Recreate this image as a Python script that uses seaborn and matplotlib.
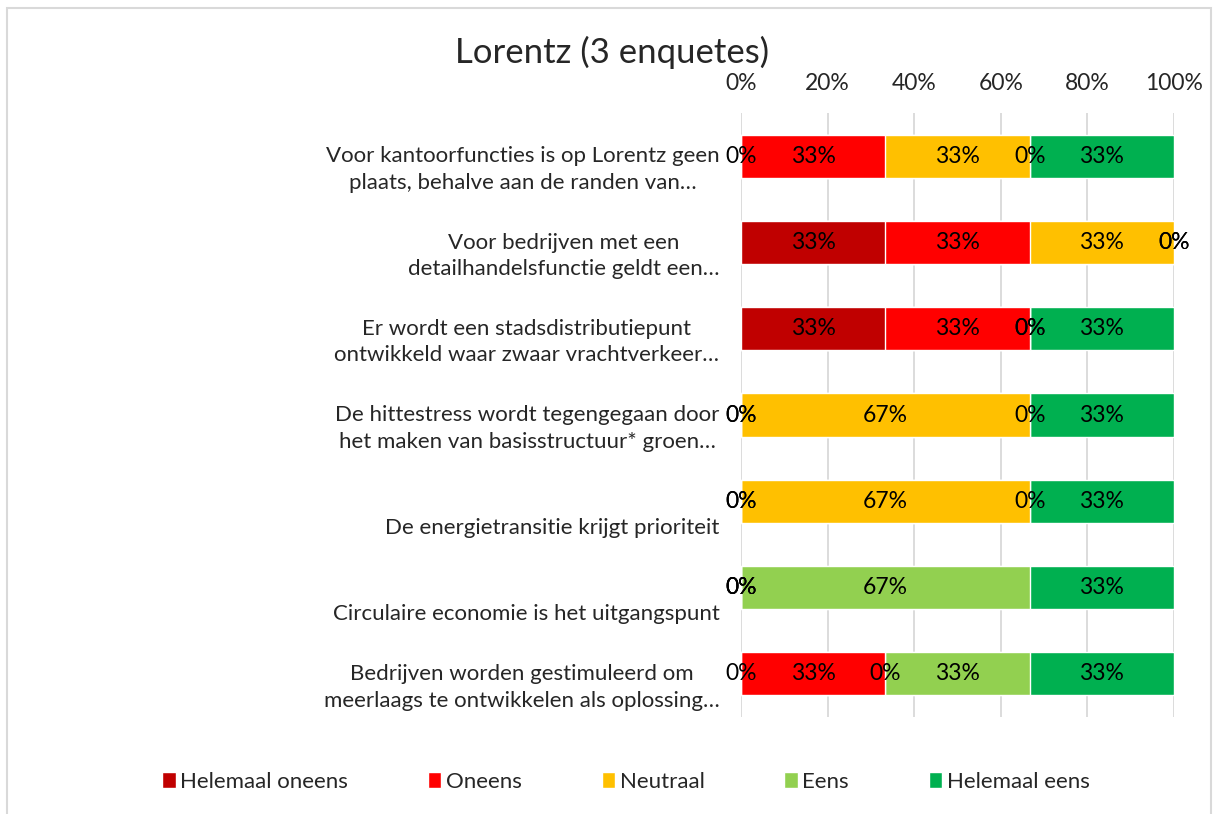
import matplotlib
matplotlib.use('Agg')
import matplotlib.pyplot as plt
import seaborn as sns
import pandas as pd
from matplotlib.ticker import PercentFormatter
from matplotlib.patches import Patch, Rectangle

statements = [
    'Voor kantoorfuncties is op Lorentz geen\nplaats, behalve aan de randen van…',
    'Voor bedrijven met een\ndetailhandelsfunctie geldt een…',
    'Er wordt een stadsdistributiepunt\nontwikkeld waar zwaar vrachtverkeer…',
    'De hittestress wordt tegengegaan door\nhet maken van basisstructuur* groen…',
    'De energietransitie krijgt prioriteit',
    'Circulaire economie is het uitgangspunt',
    'Bedrijven worden gestimuleerd om\nmeerlaags te ontwikkelen als oplossing…',
]
answers = ['Helemaal oneens', 'Oneens', 'Neutraal', 'Eens', 'Helemaal eens']
colors = ['#C00000', '#FF0000', '#FFC000', '#92D050', '#00B050']

n_enquetes = 3
helemaal_oneens = [0, 1, 1, 0, 0, 0, 0]
oneens = [1, 1, 1, 0, 0, 0, 1]
neutraal = [1, 1, 0, 2, 2, 0, 0]
eens = [0, 0, 0, 0, 0, 2, 1]
helemaal_eens = [1, 0, 1, 1, 1, 1, 1]

df = pd.DataFrame({'statement': statements,
                   'Helemaal oneens': helemaal_oneens,
                   'Oneens': oneens,
                   'Neutraal': neutraal,
                   'Eens': eens,
                   'Helemaal eens': helemaal_eens})
pct = df[answers] / n_enquetes * 100
cum = pct.cumsum(axis=1)

sns.set_style('white')
plt.rcParams['font.family'] = ['Lato', 'DejaVu Sans']
FS = 16.5

fig = plt.figure(figsize=(12.13, 8.14), dpi=100)
fig.set_facecolor('white')
ax = fig.add_axes([741 / 1213, 1 - 717 / 814, 433 / 1213, 604 / 814])

# stacked bars: draw cumulative totals from the top down
for ans, col in reversed(list(zip(answers, colors))):
    sns.barplot(x=cum[ans], y=df['statement'], color=col, saturation=1,
                width=0.5, orient='h', ax=ax, zorder=2)

for i in range(len(df)):
    for ans in answers:
        left = cum.loc[i, ans] - pct.loc[i, ans]
        ax.text(left + pct.loc[i, ans] / 2, i, f"{pct.loc[i, ans]:.0f}%",
                ha='center', va='center', fontsize=FS, color='black', zorder=3)

ax.set_xlim(0, 100)
ax.set_ylim(6.5, -0.5)
ax.set_xticks(range(0, 101, 20))
ax.xaxis.set_major_formatter(PercentFormatter(decimals=0))
ax.xaxis.tick_top()
ax.tick_params(axis='x', length=0, labelsize=FS, pad=14)
ax.tick_params(axis='y', length=0)
ax.set_yticklabels([])
ax.set_xlabel('')
ax.set_ylabel('')
ax.grid(axis='x', color='#D9D9D9', linewidth=1.3, zorder=0)
ax.set_axisbelow(True)
for sp in ax.spines.values():
    sp.set_visible(False)

# category labels: first line level with the bar, single lines drop one line
for i, s in enumerate(statements):
    txt = s if '\n' in s else '\n' + s
    ax.annotate(txt, xy=(0, i), xycoords=('axes fraction', 'data'),
                xytext=(-15.5, -6), textcoords='offset points',
                ha='right', va='center_baseline', multialignment='center',
                fontsize=16, linespacing=1.4)

fig.text(612 / 1213, 1 - 52 / 814, 'Lorentz (3 enquetes)',
         ha='center', va='center', fontsize=25)

handles = [Patch(facecolor=c, label=a) for a, c in zip(answers, colors)]
fig.legend(handles=handles, loc='center', bbox_to_anchor=(626 / 1213, 1 - 782 / 814),
           ncol=5, frameon=False, fontsize=16, handlelength=0.6, handleheight=0.7,
           handletextpad=0.2, columnspacing=3.6)

fig.add_artist(Rectangle((7 / 1213, -0.02), 1204 / 1213, 1.02 - 8 / 814,
                         transform=fig.transFigure, fill=False,
                         edgecolor='#D9D9D9', linewidth=1.5))

fig.savefig('out.png', dpi=100, facecolor='white')
